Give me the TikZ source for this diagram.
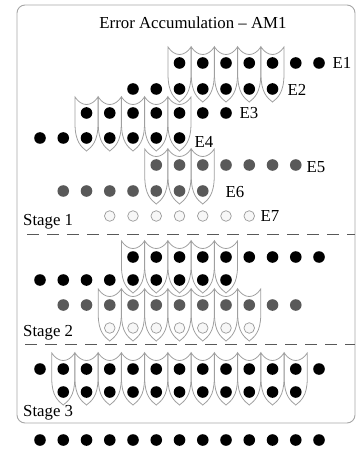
\documentclass[tikz,border=0pt]{standalone}
\usepackage{fontspec}
\setmainfont{Liberation Serif}
\newcommand\gatepath[3]{%
  \draw[gatebox] ({#1-11.5},{#2-16}) .. controls ({#1-5},{#2-6}) and ({#1+5},{#2-6}) .. ({#1+11.5},{#2-16})
    -- ({#1+11.5},{(#2+#3)/2-2}) .. controls ({#1+11.5},{#3+4}) and ({#1+5},{#3+9}) .. ({#1},{#3+13})
    .. controls ({#1-5},{#3+9}) and ({#1-11.5},{#3+4}) .. ({#1-11.5},{(#2+#3)/2-2}) -- cycle;}
\newcommand\dotrow[4]{% style, y, first col, last col
  \foreach \i in {#3,...,#4} {\path[#1] ({40+23.25*\i},#2) circle[radius=5.8];}}
\newcommand\openrow[3]{%
  \foreach \i in {#2,...,#3} {\path[opendot] ({40+23.25*\i},#1) circle[radius=5.3];}}
\newcommand\gaterow[4]{% upper y, lower y, first col, last col
  \foreach \i in {#3,...,#4} {\gatepath{40+23.25*\i}{#1}{#2}}}
\begin{document}
\begin{tikzpicture}[x=1pt,y=-1pt,
  gatebox/.style={draw=gray!75, line width=0.8pt},
  blackdot/.style={fill=black},
  graydot/.style={fill=black!65},
  opendot/.style={draw=gray!80, fill=gray!6, line width=0.7pt},
  lbl/.style={font=\fontsize{16.8}{20}\selectfont, inner sep=0pt},
  frame/.style={draw=gray!70, line width=0.9pt, rounded corners=8pt},
  sepline/.style={draw=black!65, line width=0.9pt, dash pattern=on 12pt off 8pt}]
\useasboundingbox (0,0) rectangle (357,454);
\path[frame] (17,5) rectangle (355,423);
\node[lbl] (title) at (193,23) {Error Accumulation -- AM1};
% Stage 1
\gaterow{63}{89}{6}{10}
\gaterow{113}{138}{2}{6}
\gaterow{165}{191}{5}{7}
\dotrow{blackdot}{63}{6}{12}
\dotrow{blackdot}{89}{4}{10}
\dotrow{blackdot}{113}{2}{8}
\dotrow{blackdot}{138}{0}{6}
\dotrow{graydot}{165}{5}{11}
\dotrow{graydot}{191}{1}{7}
\openrow{216}{3}{9}
\node[lbl] (e1) at (342,63) {E1};
\node[lbl] (e2) at (297,90) {E2};
\node[lbl] (e3) at (249,113) {E3};
\node[lbl] (e4) at (204,142) {E4};
\node[lbl] (e5) at (316,167) {E5};
\node[lbl] (e6) at (235,192) {E6};
\node[lbl] (e7) at (270,216) {E7};
\node[lbl, anchor=west] (s1) at (23,222) {Stage 1};
\coordinate (d1a) at (27,234);
\coordinate (d1b) at (355,234);
\draw[sepline] (d1a) -- (d1b);
% Stage 2
\gaterow{257}{280}{4}{8}
\gaterow{305}{328}{3}{9}
\dotrow{blackdot}{257}{4}{12}
\dotrow{blackdot}{280}{0}{8}
\dotrow{graydot}{305}{1}{11}
\openrow{328}{3}{9}
\node[lbl, anchor=west] (s2) at (23,333) {Stage 2};
\coordinate (d2a) at (25,344);
\coordinate (d2b) at (355,344);
\draw[sepline] (d2a) -- (d2b);
% Stage 3
\gaterow{369}{392}{1}{11}
\dotrow{blackdot}{369}{0}{12}
\dotrow{blackdot}{392}{1}{11}
\node[lbl, anchor=west] (s3) at (23,413) {Stage 3};
% output
\dotrow{blackdot}{440}{0}{12}
\end{tikzpicture}
\end{document}
